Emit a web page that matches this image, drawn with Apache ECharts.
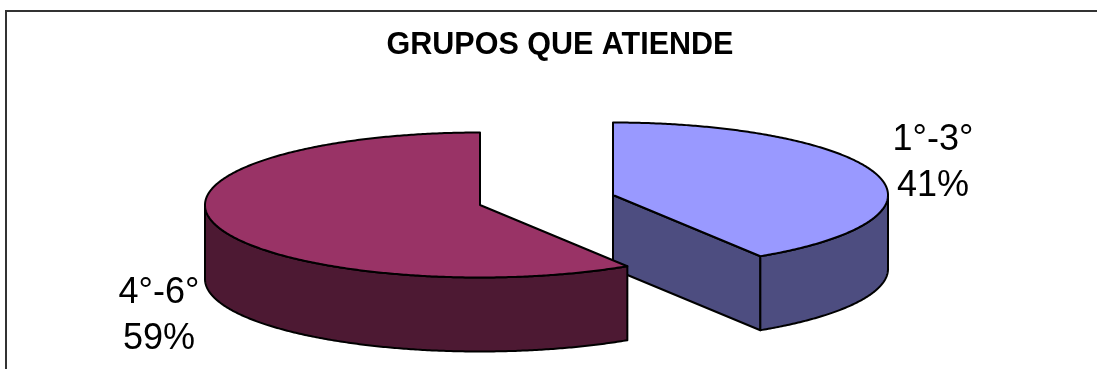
<!DOCTYPE html>
<html>
<head>
<meta charset="utf-8">
<style>html,body{margin:0;padding:0;background:#fff}#chart{width:1097px;height:369px}</style>
<script src="https://cdn.jsdelivr.net/npm/echarts@6/dist/echarts.min.js"></script>
</head>
<body>
<div id="chart"></div>
<script>
const categories = ['1°-3°', '4°-6°'];
const shares = [41, 59];
const topColors = ['#9999FF', '#993366'];
const wallColors = ['#4D4D80', '#4D1933'];

// Ellipse of each exploded slice, and where its label sits.
const RX = 275, RY = 72.5, DEPTH = 74;
const centers = [[613, 195], [480, 205]];
const labelAnchors = [[933, 163], [159, 316]];
const total = shares.reduce((a, b) => a + b, 0);

const rad = d => d * Math.PI / 180;
const rim = (c, deg, dy) => [c[0] + RX * Math.sin(rad(deg)), c[1] - RY * Math.cos(rad(deg)) + (dy || 0)];
function arc(c, from, to, dy) {
  const pts = [];
  const n = Math.max(1, Math.ceil(Math.abs(to - from) * 2));
  for (let i = 0; i <= n; i++) pts.push(rim(c, from + (to - from) * i / n, dy));
  return pts;
}

function renderSlice(params, api) {
  const i = params.dataIndex;
  const start = shares.slice(0, i).reduce((a, b) => a + b, 0) / total * 360;
  const end = start + api.value(1) / total * 360;
  const c = centers[i];
  const line = { stroke: '#000', lineWidth: 2, lineJoin: 'round' };
  const children = [];
  const poly = (points, fill) => children.push({
    type: 'polygon', shape: { points }, style: Object.assign({ fill }, line)
  });

  // Cut faces that turn toward the viewer
  [[start, -1], [end, 1]].forEach(([deg, sign]) => {
    if (sign * Math.sin(rad(deg)) > 1e-6) {
      const p = rim(c, deg);
      poly([c, p, [p[0], p[1] + DEPTH], [c[0], c[1] + DEPTH]], wallColors[i]);
    }
  });
  // Outer wall: only the front half of the rim can be seen
  const a = Math.max(start, 90), b = Math.min(end, 270);
  if (b > a) poly(arc(c, a, b).concat(arc(c, b, a, DEPTH)), wallColors[i]);
  // Top face
  poly([c].concat(arc(c, start, end)), topColors[i]);

  children.push({
    type: 'text',
    style: {
      x: labelAnchors[i][0], y: labelAnchors[i][1],
      text: categories[i] + '\n' + Math.round(api.value(1) / total * 100) + '%',
      font: '36px "Liberation Sans", Arial, sans-serif',
      lineHeight: 46, fill: '#000', align: 'center', verticalAlign: 'middle'
    }
  });
  return { type: 'group', children };
}

const chart = echarts.init(document.getElementById('chart'), null, { renderer: 'canvas' });
chart.setOption({
  animation: false,
  backgroundColor: '#fff',
  title: {
    text: 'GRUPOS QUE ATIENDE',
    left: 555, top: 25, textAlign: 'center',
    textStyle: { fontFamily: '"Liberation Sans", Arial, sans-serif', fontWeight: 'bold', fontSize: 30.5, color: '#000' }
  },
  graphic: [{
    type: 'polyline', silent: true,
    shape: { points: [[6, 369], [6, 11], [1097, 11]] },
    style: { stroke: '#333', lineWidth: 2, fill: 'none' }
  }],
  series: [{
    type: 'custom',
    coordinateSystem: 'none',
    renderItem: renderSlice,
    data: categories.map((name, i) => ({ name, value: [i, shares[i]] }))
  }]
});
</script>
</body>
</html>
